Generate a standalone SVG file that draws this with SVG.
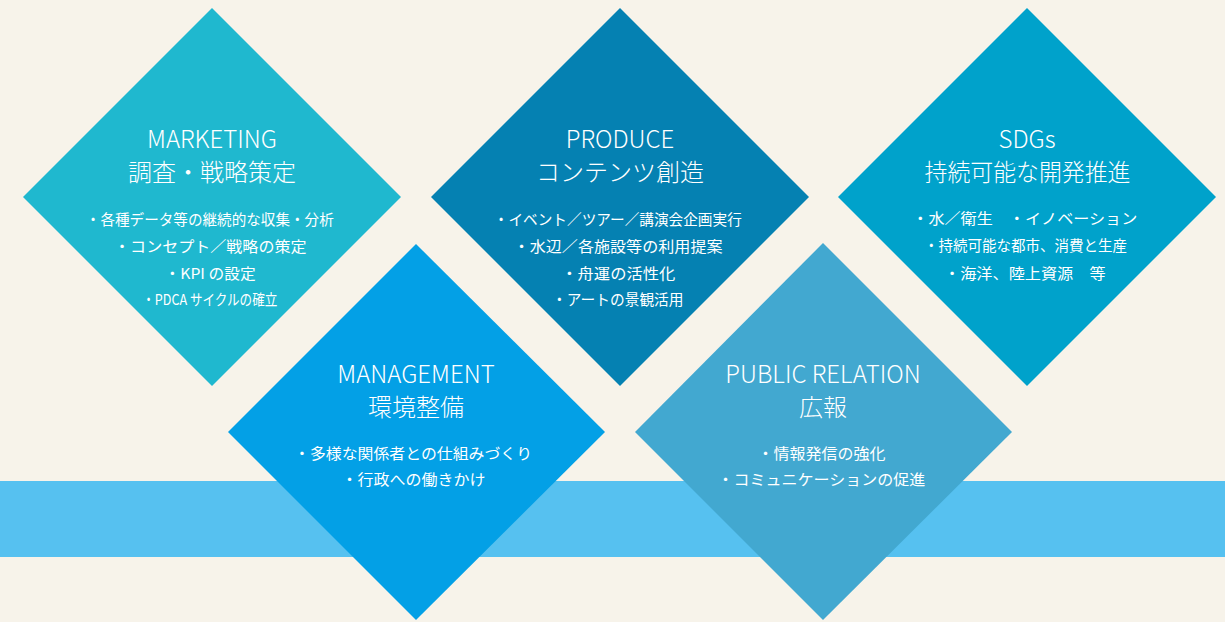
<svg xmlns="http://www.w3.org/2000/svg" width="1225" height="622" viewBox="0 0 1225 622">
<style>
text{font-family:"Noto Sans CJK JP","Noto Sans",sans-serif;fill:#fff;text-anchor:middle;dominant-baseline:central}
.t{font-size:24px;font-weight:300}
.b{font-size:15px}
</style>
<rect width="1225" height="622" fill="#f7f3ea"/>
<rect id="band" x="0" y="481" width="1225" height="76" fill="#56c1f0"/>
<g id="marketing">
<polygon points="212,8 401,197 212,386 23,197" fill="#1fb8cf"/>
<text class="t" x="212" y="137">MARKETING</text>
<text class="t" x="212" y="170.5">調査・戦略策定</text>
<text class="b" x="209.8" y="218" textLength="248" lengthAdjust="spacingAndGlyphs">・各種データ等の継続的な収集・分析</text>
<text class="b" x="210.3" y="245" textLength="192.5" lengthAdjust="spacingAndGlyphs">・コンセプト／戦略の策定</text>
<text class="b" x="210.1" y="272" textLength="91" lengthAdjust="spacingAndGlyphs">・KPI の設定</text>
<text class="b" x="209.8" y="298" textLength="135" lengthAdjust="spacingAndGlyphs">・PDCA サイクルの確立</text>
</g>
<g id="produce">
<polygon points="620,8 809,197 620,386 431,197" fill="#0581b2"/>
<text class="t" x="620" y="137">PRODUCE</text>
<text class="t" x="620" y="170.5">コンテンツ創造</text>
<text class="b" x="617.8" y="218" textLength="248" lengthAdjust="spacingAndGlyphs">・イベント／ツアー／講演会企画実行</text>
<text class="b" x="618.1" y="245" textLength="209" lengthAdjust="spacingAndGlyphs">・水辺／各施設等の利用提案</text>
<text class="b" x="618.3" y="272" textLength="114" lengthAdjust="spacingAndGlyphs">・舟運の活性化</text>
<text class="b" x="617.8" y="298" textLength="131.5" lengthAdjust="spacingAndGlyphs">・アートの景観活用</text>
</g>
<g id="sdgs">
<polygon points="1027,8 1216,197 1027,386 838,197" fill="#00a2cb"/>
<text class="t" x="1027" y="137">SDGs</text>
<text class="t" x="1027.5" y="170.5" textLength="206" lengthAdjust="spacingAndGlyphs">持続可能な開発推進</text>
<text class="b" x="1024.8" y="217" textLength="225" lengthAdjust="spacingAndGlyphs">・水／衛生　・イノベーション</text>
<text class="b" x="1025.6" y="244" textLength="203" lengthAdjust="spacingAndGlyphs">・持続可能な都市、消費と生産</text>
<text class="b" x="1024.8" y="272" textLength="161.5" lengthAdjust="spacingAndGlyphs">・海洋、陸上資源　等</text>
</g>
<g id="management">
<polygon points="416,244 605,432 416,620 228,432" fill="#03a0e6"/>
<text class="t" x="416" y="372">MANAGEMENT</text>
<text class="t" x="416" y="405.5">環境整備</text>
<text class="b" x="413.1" y="452" textLength="238" lengthAdjust="spacingAndGlyphs">・多様な関係者との仕組みづくり</text>
<text class="b" x="413.6" y="478" textLength="144" lengthAdjust="spacingAndGlyphs">・行政への働きかけ</text>
</g>
<g id="public-relation">
<polygon points="823,243 1012,432 823,620 635,432" fill="#42a8d0"/>
<text class="t" x="823" y="372">PUBLIC RELATION</text>
<text class="t" x="823" y="405.5">広報</text>
<text class="b" x="821.4" y="452" textLength="128" lengthAdjust="spacingAndGlyphs">・情報発信の強化</text>
<text class="b" x="821.4" y="478" textLength="208" lengthAdjust="spacingAndGlyphs">・コミュニケーションの促進</text>
</g>
<g id="connectors"/>
</svg>
